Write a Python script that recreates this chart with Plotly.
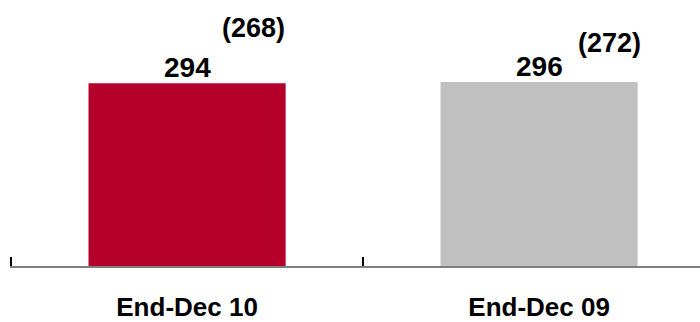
import plotly.graph_objects as go

# Period-end values
periods = ["End-Dec 10", "End-Dec 09"]
values = [294, 296]
prior_values = [268, 272]
bar_colors = ["#B4002B", "#C0C0C0"]

FONT = "Liberation Sans, Arial, sans-serif"

fig = go.Figure(
    go.Bar(
        x=periods,
        y=values,
        marker=dict(color=bar_colors, line=dict(width=0)),
        width=0.56,
        hoverinfo="skip",
    )
)

# Value labels sitting just above each bar
for p, v in zip(periods, values):
    fig.add_annotation(
        x=p, y=v, xref="x", yref="y",
        text=f"<b>{v}</b>", showarrow=False,
        yanchor="bottom", xanchor="center", yshift=-2,
        font=dict(family=FONT, size=28, color="#000000"),
    )

# Bracketed comparison figures, up and to the right of each value
bracket_pos = [(0.19, 0.895), (1.2, 0.84)]
for (px, py), pv in zip(bracket_pos, prior_values):
    fig.add_annotation(
        x=px, y=py, xref="x", yref="paper",
        text=f"<b>({pv})</b>", showarrow=False,
        yanchor="middle", xanchor="center",
        font=dict(family=FONT, size=27, color="#000000"),
    )

fig.update_layout(
    width=700,
    height=322,
    margin=dict(l=10, r=0, t=0, b=56, autoexpand=False),
    paper_bgcolor="white",
    plot_bgcolor="white",
    showlegend=False,
    xaxis=dict(
        type="category",
        range=[-0.503, 1.457],
        automargin=False,
        tickson="boundaries",
        ticks="inside",
        ticklen=9,
        tickwidth=1.5,
        tickcolor="#000000",
        showline=True,
        linecolor="#7f7f7f",
        linewidth=1.5,
        showgrid=False,
        zeroline=False,
        ticklabelstandoff=17,
        tickfont=dict(family=FONT, size=26, color="#000000", weight="bold"),
    ),
    yaxis=dict(
        range=[0, 428],
        visible=False,
        automargin=False,
        showgrid=False,
        zeroline=False,
    ),
)

fig.write_html("out.html")
